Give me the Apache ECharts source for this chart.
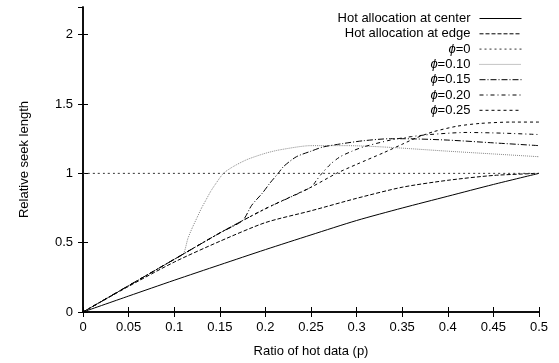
<!DOCTYPE html>
<html>
<head>
<meta charset="utf-8">
<script src="https://cdn.jsdelivr.net/npm/echarts@6/dist/echarts.min.js"></script>
<style>
  html, body { margin: 0; padding: 0; background: #fff; }
  #chart { width: 559px; height: 363px; }
</style>
</head>
<body>
<div id="chart"></div>
<script>
// values
const centerX = [0, 0.05, 0.1, 0.15, 0.2, 0.25, 0.3, 0.35, 0.4, 0.45, 0.5]
const centerY = [0, 0.115, 0.229, 0.34, 0.45, 0.556, 0.66, 0.75, 0.835, 0.92, 1.0]

const edgeX = [0, 0.05, 0.1, 0.15, 0.2, 0.25, 0.3, 0.35, 0.4, 0.45, 0.5]
const edgeY = [0, 0.185, 0.36, 0.51, 0.645, 0.73, 0.82, 0.9, 0.95, 0.985, 1.0]

const phi0X = [0, 0.5]
const phi0Y = [1, 1]

const phi10X = [0, 0.05, 0.1, 0.11, 0.115, 0.12, 0.125, 0.13, 0.135, 0.14, 0.145, 0.154, 0.165, 0.18, 0.2, 0.216, 0.25, 0.29, 0.33, 0.4, 0.45, 0.5]
const phi10Y = [0, 0.19, 0.38, 0.42, 0.53, 0.61, 0.68, 0.75, 0.81, 0.87, 0.92, 1.0, 1.05, 1.1, 1.145, 1.17, 1.2, 1.2, 1.19, 1.16, 1.14, 1.12]

const phi15X = [0, 0.05, 0.1, 0.15, 0.175, 0.185, 0.197, 0.205, 0.214, 0.22, 0.234, 0.25, 0.263, 0.285, 0.307, 0.337, 0.35, 0.4, 0.45, 0.5]
const phi15Y = [0, 0.19, 0.38, 0.57, 0.66, 0.77, 0.86, 0.93, 1.0, 1.05, 1.12, 1.16, 1.19, 1.215, 1.235, 1.25, 1.25, 1.24, 1.22, 1.2]

const phi20X = [0, 0.05, 0.1, 0.15, 0.2, 0.25, 0.256, 0.262, 0.272, 0.282, 0.295, 0.307, 0.337, 0.36, 0.38, 0.42, 0.46, 0.5]
const phi20Y = [0, 0.19, 0.38, 0.57, 0.745, 0.9, 0.95, 1.0, 1.07, 1.12, 1.16, 1.19, 1.24, 1.265, 1.28, 1.295, 1.29, 1.28]

const phi25X = [0, 0.05, 0.1, 0.15, 0.2, 0.25, 0.278, 0.3, 0.33, 0.35, 0.365, 0.384, 0.41, 0.435, 0.47, 0.5]
const phi25Y = [0, 0.19, 0.38, 0.57, 0.745, 0.9, 1.0, 1.065, 1.15, 1.21, 1.255, 1.3, 1.34, 1.36, 1.37, 1.37]

const yTicks = [0, 0.5, 1, 1.5, 2]

const seriesDefs = [
  { name: 'Hot allocation at center', x: centerX, y: centerY, color: '#000', type: 'solid' },
  { name: 'Hot allocation at edge', x: edgeX, y: edgeY, color: '#000', type: [4, 2] },
  { name: 'ϕ=0', x: phi0X, y: phi0Y, color: '#333', type: [2, 3] },
  { name: 'ϕ=0.10', x: phi10X, y: phi10Y, color: '#888', type: [1, 1] },
  { name: 'ϕ=0.15', x: phi15X, y: phi15Y, color: '#000', type: [6, 2, 1, 2] },
  { name: 'ϕ=0.20', x: phi20X, y: phi20Y, color: '#000', type: [4, 3, 1, 3] },
  { name: 'ϕ=0.25', x: phi25X, y: phi25Y, color: '#000', type: [3, 3] },
]

const FONT = '"Liberation Sans", Arial, sans-serif'
const FS = 13

const pair = (xs, ys) => xs.map((v, i) => [v, ys[i]])

const chart = echarts.init(document.getElementById('chart'))

const labelFmt = (v) => String(+v.toFixed(2))

// one legend per row so that the right edges line up like gnuplot's key
const legends = seriesDefs.map((s, i) => ({
  data: [s.name],
  right: 37,
  top: 12 + i * 15.3,
  align: 'right',
  itemWidth: 42,
  itemHeight: 10,
  itemGap: 0,
  padding: 0,
  selectedMode: false,
  itemStyle: { opacity: 0 },
  lineStyle: { width: 1 },
  textStyle: {
    fontFamily: FONT,
    fontSize: FS,
    color: '#000',
    padding: [0, 4, 0, 0],
    rich: {
      i: { fontFamily: FONT, fontSize: FS, fontStyle: 'italic', color: '#000' },
    },
  },
  formatter: (name) => name.startsWith('ϕ') ? '{i|ϕ}' + name.slice(1) : name,
}))

const axisLineStyle = { color: '#000', width: 1.5 }

const option = {
  animation: false,
  backgroundColor: '#fff',
  grid: { left: 83, right: 20, top: 7, bottom: 51 },
  legend: legends,
  xAxis: [
    {
      type: 'value',
      min: 0,
      max: 0.5,
      interval: 0.05,
      name: 'Ratio of hot data (p)',
      nameLocation: 'middle',
      nameGap: 33,
      nameTextStyle: { fontFamily: FONT, fontSize: FS, color: '#000' },
      axisLine: { onZero: false, lineStyle: axisLineStyle },
      axisTick: { inside: true, length: 5, lineStyle: { color: '#000' } },
      axisLabel: {
        margin: 9,
        fontFamily: FONT,
        fontSize: FS,
        color: '#000',
        formatter: labelFmt,
      },
      splitLine: { show: false },
    },
    {
      type: 'value',
      position: 'top',
      min: 0,
      max: 0.5,
      interval: 0.05,
      axisLine: { lineStyle: axisLineStyle },
      axisTick: { inside: true, length: 5, lineStyle: { color: '#000' } },
      axisLabel: { show: false },
      splitLine: { show: false },
    },
  ],
  yAxis: [
    {
      type: 'value',
      min: 0,
      max: 2.2,
      interval: 0.5,
      name: 'Relative seek length',
      nameLocation: 'middle',
      nameGap: 52,
      nameTextStyle: { fontFamily: FONT, fontSize: FS, color: '#000' },
      axisLine: { show: true, onZero: false, lineStyle: axisLineStyle },
      axisTick: { show: true, inside: true, length: 5, lineStyle: { color: '#000' } },
      axisLabel: {
        margin: 10,
        fontFamily: FONT,
        fontSize: FS,
        color: '#000',
        showMaxLabel: false,
        formatter: (v) => (yTicks.includes(+v.toFixed(2)) ? labelFmt(v) : ''),
      },
      splitLine: { show: false },
    },
    {
      type: 'value',
      position: 'right',
      min: 0,
      max: 2.2,
      interval: 0.5,
      axisLine: { show: true, lineStyle: axisLineStyle },
      axisTick: { show: true, inside: true, length: 5, lineStyle: { color: '#000' } },
      axisLabel: { show: false },
      splitLine: { show: false },
    },
  ],
  series: seriesDefs.map((s) => ({
    name: s.name,
    type: 'line',
    data: pair(s.x, s.y),
    showSymbol: false,
    symbol: 'none',
    smooth: 0.25,
    color: s.color,
    lineStyle: { color: s.color, width: 1, type: s.type },
    emphasis: { disabled: true },
  })),
}

chart.setOption(option)
window.addEventListener('resize', () => chart.resize())
</script>
</body>
</html>
